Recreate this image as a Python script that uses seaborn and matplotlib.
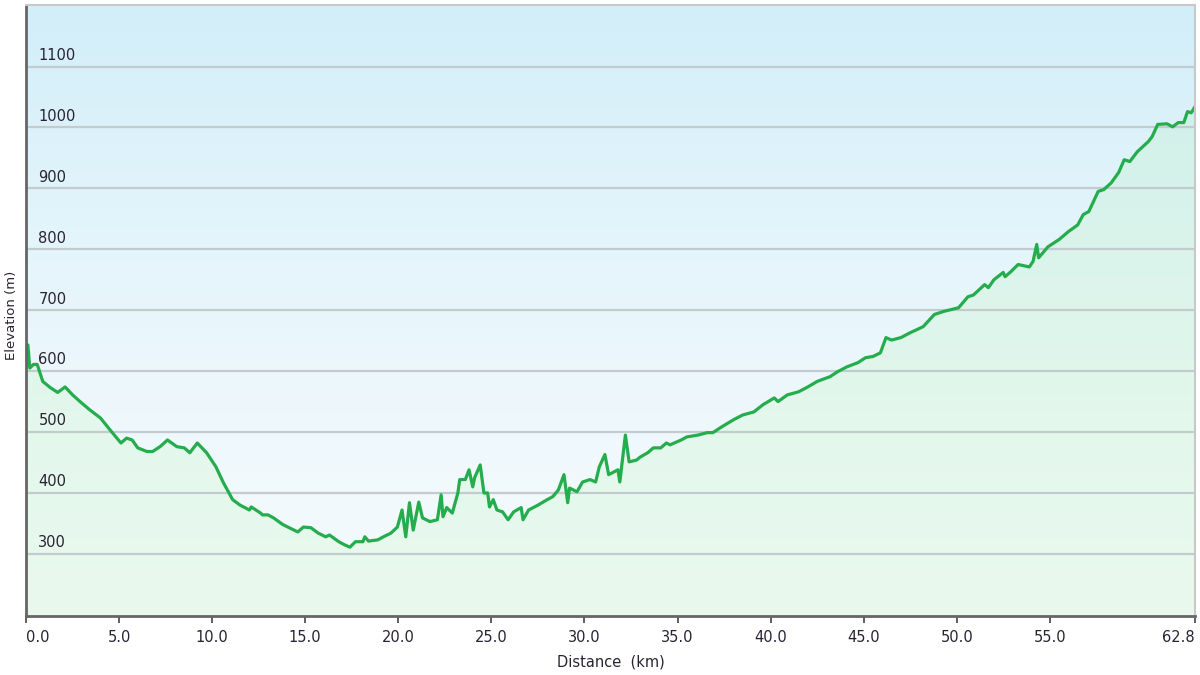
import numpy as np
import matplotlib
matplotlib.use("Agg")
import matplotlib.pyplot as plt
import seaborn as sns
from matplotlib.colors import LinearSegmentedColormap

# distance along the route (km) and elevation (m)
distance_km = [
    0.0, 0.1, 0.2, 0.4, 0.6, 0.9, 1.3, 1.7, 2.1, 2.5, 2.9, 3.4, 4.0, 4.5,
    5.1, 5.4, 5.7, 6.0, 6.5, 6.8, 7.2, 7.6, 8.1, 8.5, 8.8, 9.2, 9.7, 10.2,
    10.6, 11.1, 11.5, 12.0, 12.1, 12.6, 12.7, 13.0, 13.3, 13.8, 14.6, 14.9,
    15.3, 15.7, 16.1, 16.3, 16.8, 17.1, 17.4, 17.7, 18.1, 18.2, 18.4, 18.9,
    19.2, 19.6, 19.95, 20.2, 20.4, 20.6, 20.8, 21.1, 21.3, 21.7, 22.1, 22.3,
    22.4, 22.6, 22.9, 23.2, 23.3, 23.6, 23.8, 24.0, 24.1, 24.4, 24.6, 24.8,
    24.9, 25.1, 25.3, 25.6, 25.9, 26.2, 26.6, 26.7, 27.0, 27.5, 28.0, 28.3,
    28.6, 28.9, 29.1, 29.2, 29.6, 29.9, 30.3, 30.6, 30.8, 31.1, 31.3, 31.8,
    31.9, 32.2, 32.4, 32.8, 33.0, 33.4, 33.7, 34.1, 34.4, 34.6, 35.2, 35.5,
    36.1, 36.6, 36.9, 37.4, 38.0, 38.5, 39.1, 39.6, 40.2, 40.4, 40.9, 41.5,
    42.0, 42.5, 43.2, 43.6, 44.1, 44.7, 45.1, 45.5, 45.9, 46.2, 46.5, 47.0,
    47.5, 48.2, 48.8, 49.3, 50.1, 50.6, 50.9, 51.5, 51.7, 52.0, 52.5, 52.6,
    52.9, 53.3, 53.9, 54.1, 54.3, 54.4, 54.9, 55.5, 56.0, 56.5, 56.8, 57.1,
    57.6, 57.9, 58.3, 58.7, 59.0, 59.3, 59.7, 60.3, 60.5, 60.8, 61.3, 61.6,
    61.9, 62.2, 62.4, 62.6, 62.8,
]
elevation_m = [
    610, 643, 605, 611, 611, 583, 573, 565, 574, 561, 550, 537, 523, 504,
    482, 490, 487, 474, 468, 468, 476, 487, 476, 474, 466, 482, 466, 443,
    417, 389, 380, 372, 377, 367, 364, 364, 359, 348, 336, 344,
    343, 334, 328, 331, 320, 315, 311, 320, 320, 328, 321, 323,
    328, 334, 344, 372, 328, 384, 339, 385, 359, 353, 356, 397,
    361, 376, 367, 400, 422, 422, 438, 410, 425, 446, 400, 400,
    377, 389, 372, 369, 356, 369, 376, 356, 372, 380, 389, 394,
    405, 430, 384, 408, 402, 418, 422, 418, 443, 463, 430, 438,
    418, 495, 451, 454, 459, 466, 474, 474, 482, 479, 487, 492,
    495, 499, 499, 509, 520, 528, 533, 545, 556, 550, 561, 566,
    574, 583, 591, 599, 607, 614, 622, 624, 630, 655, 651, 655,
    663, 673, 693, 698, 704, 722, 725, 742, 737, 750, 762, 755,
    763, 775, 771, 780, 808, 786, 804, 816, 829, 840, 857, 862,
    895, 898, 909, 926, 947, 944, 960, 977, 985, 1005, 1006, 1001,
    1008, 1008, 1026, 1024, 1034,
]

x_ticks = [0, 5, 10, 15, 20, 25, 30, 35, 40, 45, 50, 55, 62.8]
x_tick_labels = ["0.0", "5.0", "10.0", "15.0", "20.0", "25.0", "30.0",
                 "35.0", "40.0", "45.0", "50.0", "55.0", "62.8"]
y_ticks = [300, 400, 500, 600, 700, 800, 900, 1000, 1100]

sns.set_style("white")
plt.rcParams["font.family"] = ["DejaVu Sans"]

LINE = "#25ad4d"
TEXT = "#2a2233"

fig = plt.figure(figsize=(12, 6.75), dpi=100)
ax = fig.add_axes([0.0217, 0.0874, 0.9741, 0.9052])

x_max = 62.8
y_min, y_max = 198, 1201

# sky-like background: light blue at the top fading to near white
bg = LinearSegmentedColormap.from_list(
    "bg", ["#f6fbfe", "#eef8fc", "#e2f4fb", "#d2eef9"])
grad = np.linspace(0, 1, 256).reshape(-1, 1)
ax.imshow(grad, cmap=bg, aspect="auto", origin="lower",
          extent=[0, x_max, y_min, y_max], zorder=0)

ax.fill_between(distance_km, elevation_m, y_min, color="#8cf070",
                alpha=0.11, linewidth=0, zorder=1)

for v in y_ticks:
    ax.axhline(v, color="#c3cbcf", linewidth=1.6, zorder=2)

sns.lineplot(x=distance_km, y=elevation_m, ax=ax, color=LINE,
             linewidth=2.3, sort=False, estimator=None, zorder=3)

ax.set_xlim(0, x_max)
ax.set_ylim(y_min, y_max)

ax.set_yticks([])
for v in y_ticks:
    ax.text(0.0105, v + 6, str(v), transform=ax.get_yaxis_transform(),
            ha="left", va="bottom", fontsize=10.5, color=TEXT, zorder=4)

ax.set_xticks(x_ticks)
ax.set_xticklabels(x_tick_labels, fontsize=10.5, color=TEXT)
labels = ax.get_xticklabels()
labels[0].set_horizontalalignment("left")
labels[-1].set_horizontalalignment("right")
ax.tick_params(axis="x", direction="out", length=5, width=1.2,
               color="#444444", pad=5, bottom=True)

ax.set_xlabel("Distance  (km)", fontsize=10.5, color=TEXT, labelpad=7)
ax.set_ylabel("")
fig.text(12 / 1200, 1 - 315 / 675, "Elevation (m)", rotation=90,
         ha="center", va="center", fontsize=9.5, color=TEXT)

for side in ["left", "bottom"]:
    ax.spines[side].set_color("#666666")
    ax.spines[side].set_linewidth(2.0)
for side in ["top", "right"]:
    ax.spines[side].set_color("#c8c8c8")
    ax.spines[side].set_linewidth(1.5)
for s in ax.spines.values():
    s.set_zorder(5)

fig.savefig("out.png", dpi=100)
